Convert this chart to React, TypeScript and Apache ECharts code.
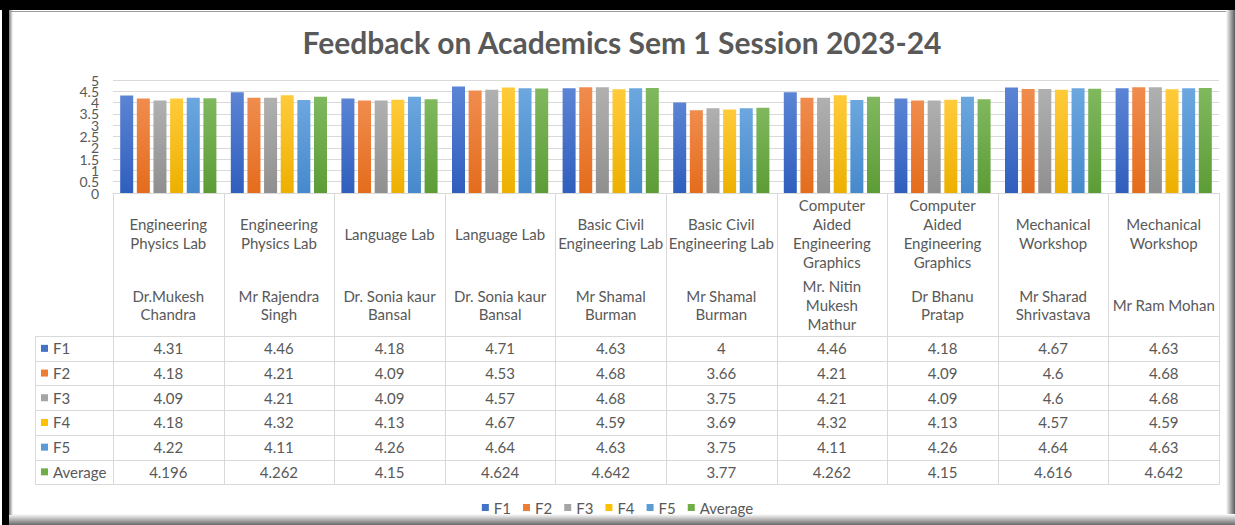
import React, { useEffect, useRef } from "react";
import * as echarts from "echarts";

const courses = [
  "Engineering\nPhysics Lab",
  "Engineering\nPhysics Lab",
  "Language Lab",
  "Language Lab",
  "Basic Civil\nEngineering Lab",
  "Basic Civil\nEngineering Lab",
  "Computer\nAided\nEngineering\nGraphics",
  "Computer\nAided\nEngineering\nGraphics",
  "Mechanical\nWorkshop",
  "Mechanical\nWorkshop",
];
const instructors = [
  "Dr.Mukesh\nChandra",
  "Mr Rajendra\nSingh",
  "Dr. Sonia kaur\nBansal",
  "Dr. Sonia kaur\nBansal",
  "Mr Shamal\nBurman",
  "Mr Shamal\nBurman",
  "Mr. Nitin\nMukesh\nMathur",
  "Dr Bhanu\nPratap",
  "Mr Sharad\nShrivastava",
  "Mr Ram Mohan",
];
const seriesNames = ["F1", "F2", "F3", "F4", "F5", "Average"];
const f1 = [4.31, 4.46, 4.18, 4.71, 4.63, 4, 4.46, 4.18, 4.67, 4.63];
const f2 = [4.18, 4.21, 4.09, 4.53, 4.68, 3.66, 4.21, 4.09, 4.6, 4.68];
const f3 = [4.09, 4.21, 4.09, 4.57, 4.68, 3.75, 4.21, 4.09, 4.6, 4.68];
const f4 = [4.18, 4.32, 4.13, 4.67, 4.59, 3.69, 4.32, 4.13, 4.57, 4.59];
const f5 = [4.22, 4.11, 4.26, 4.64, 4.63, 3.75, 4.11, 4.26, 4.64, 4.63];
const average = [4.196, 4.262, 4.15, 4.624, 4.642, 3.77, 4.262, 4.15, 4.616, 4.642];
const seriesValues = [f1, f2, f3, f4, f5, average];
const yTicks = [0, 0.5, 1, 1.5, 2, 2.5, 3, 3.5, 4, 4.5, 5];

const colors = ["#4472C4", "#ED7D31", "#A5A5A5", "#FFC000", "#5B9BD5", "#70AD47"];
const topColors = ["#5B84D4", "#F08C4E", "#B0B0B0", "#FFCB3A", "#6CA7DF", "#80B85E"];
const bottomColors = ["#2F5EBD", "#E46C1C", "#8F8F8F", "#EDB000", "#4689CC", "#5C9C36"];

const FONT = "Lato, 'Open Sans', sans-serif";
const TXT = "#595959";
const LINE = "#d9d9d9";

export default function App() {
  const ref = useRef<HTMLDivElement>(null);
  useEffect(() => {
    document.body.style.margin = "0";
    const chart = echarts.init(ref.current!, null, { renderer: "svg" });
    const W = 1235;
    const gridL = 113;
    const gridR = 1219;
    const gridTop = 80;
    const gridBottom = 193;
    const n = courses.length;
    const colW = (gridR - gridL) / n;
    const tableTop = 336;
    const rowH = 24.7;
    const lineH = 18.7;

    const g: any[] = [];
    // frame
    g.push({ type: "rect", shape: { x: 0, y: 0, width: W, height: 525 }, style: { fill: "#ffffff" }, z: -10, silent: true });
    g.push({ type: "rect", shape: { x: 0, y: 0, width: W, height: 10 }, style: { fill: "#000000" }, z: -5 });
    g.push({ type: "rect", shape: { x: 2, y: 0, width: 7, height: 525 }, style: { fill: "#000000" }, z: -5 });
    g.push({
      type: "rect",
      shape: { x: 1226, y: 10, width: 9, height: 515 },
      style: { fill: new echarts.graphic.LinearGradient(0, 0, 1, 0, [{ offset: 0, color: "#ffffff" }, { offset: 1, color: "#5a5a5a" }]) },
      z: -5,
    });
    g.push({
      type: "rect",
      shape: { x: 9, y: 514, width: 1226, height: 11 },
      style: { fill: new echarts.graphic.LinearGradient(0, 0, 0, 1, [{ offset: 0, color: "#ffffff" }, { offset: 1, color: "#6a6a6a" }]) },
      z: -4,
    });
    g.push({
      type: "rect",
      shape: { x: 9, y: 10, width: 4, height: 505 },
      style: { fill: new echarts.graphic.LinearGradient(0, 0, 1, 0, [{ offset: 0, color: "#7a7a7a" }, { offset: 1, color: "#ffffff" }]) },
      z: -4,
    });
    g.push({ type: "line", shape: { x1: 9, y1: 11.5, x2: 1226, y2: 11.5 }, style: { stroke: "#9a9a9a", lineWidth: 1 }, z: -3 });

    // title
    g.push({
      type: "text",
      x: 622,
      y: 42,
      style: { text: "Feedback on Academics Sem 1 Session 2023-24", fill: TXT, font: `bold 30px ${FONT}`, align: "center", verticalAlign: "middle" },
    });

    // table grid lines
    for (let i = 0; i <= n; i++) {
      const x = Math.round(gridL + i * colW) + 0.5;
      g.push({ type: "line", shape: { x1: x, y1: gridBottom, x2: x, y2: tableTop + rowH * 6 }, style: { stroke: LINE, lineWidth: 1 } });
    }
    for (let r = 0; r <= 6; r++) {
      const y = Math.round(tableTop + r * rowH) + 0.5;
      g.push({ type: "line", shape: { x1: 35, y1: y, x2: gridR + 0.5, y2: y }, style: { stroke: LINE, lineWidth: 1 } });
    }
    g.push({ type: "line", shape: { x1: 35.5, y1: tableTop, x2: 35.5, y2: tableTop + rowH * 6 }, style: { stroke: LINE, lineWidth: 1 } });

    // headers
    for (let i = 0; i < n; i++) {
      const cx = gridL + (i + 0.5) * colW;
      const cl = courses[i].split("\n");
      cl.forEach((t, k) => {
        g.push({
          type: "text",
          x: cx,
          y: 233.5 + (k - (cl.length - 1) / 2) * lineH,
          style: { text: t, fill: TXT, font: `15px ${FONT}`, align: "center", verticalAlign: "middle" },
        });
      });
      const il = instructors[i].split("\n");
      il.forEach((t, k) => {
        g.push({
          type: "text",
          x: cx,
          y: 305 + (k - (il.length - 1) / 2) * lineH,
          style: { text: t, fill: TXT, font: `15px ${FONT}`, align: "center", verticalAlign: "middle" },
        });
      });
    }

    // rows
    seriesNames.forEach((name, r) => {
      const cy = tableTop + (r + 0.5) * rowH;
      g.push({ type: "rect", shape: { x: 41, y: cy - 3.5, width: 7, height: 7 }, style: { fill: colors[r] } });
      g.push({ type: "text", x: 53, y: cy, style: { text: name, fill: TXT, font: `15px ${FONT}`, align: "left", verticalAlign: "middle" } });
      seriesValues[r].forEach((v, i) => {
        g.push({
          type: "text",
          x: gridL + (i + 0.5) * colW,
          y: cy,
          style: { text: String(v), fill: TXT, font: `15px ${FONT}`, align: "center", verticalAlign: "middle" },
        });
      });
    });

    const option: any = {
      animation: false,
      backgroundColor: "transparent",
      textStyle: { fontFamily: FONT },
      grid: { left: gridL, right: W - gridR, top: gridTop, bottom: 525 - gridBottom, containLabel: false },
      legend: {
        data: seriesNames.map((nm, i) => ({ name: nm, itemStyle: { color: colors[i] } })),
        left: "center",
        top: 500,
        padding: 0,
        icon: "rect",
        itemWidth: 7,
        itemHeight: 7,
        itemGap: 12,
        textStyle: { color: TXT, fontSize: 15, fontFamily: FONT },
      },
      xAxis: {
        type: "category",
        data: courses.map((c, i) => c.replace(/\n/g, " ") + " / " + instructors[i].replace(/\n/g, " ")),
        axisLine: { show: true, lineStyle: { color: LINE } },
        axisTick: { show: false },
        axisLabel: { show: false },
      },
      yAxis: {
        type: "value",
        min: 0,
        max: 5,
        interval: 0.5,
        axisLine: { show: false },
        axisTick: { show: false },
        splitLine: { lineStyle: { color: LINE } },
        axisLabel: { show: false },
      },
      series: seriesNames.map((name, s) => ({
        name,
        type: "bar",
        data: seriesValues[s],
        barWidth: 13,
        barGap: "28%",
        itemStyle: {
          borderWidth: 0,
          color: new echarts.graphic.LinearGradient(0, 0, 0, 1, [
            { offset: 0, color: topColors[s] },
            { offset: 1, color: bottomColors[s] },
          ]),
        },
      })),
      graphic: g,
    };
    chart.setOption(option);

    // y-axis tick labels, placed through the axis scale (Excel lets them overlap)
    yTicks.forEach((v) => {
      const y = chart.convertToPixel({ yAxisIndex: 0 }, v) as number;
      g.push({
        type: "text",
        x: gridL - 14,
        y,
        style: { text: String(v), fill: TXT, font: `14px ${FONT}`, align: "right", verticalAlign: "middle" },
      });
    });
    chart.setOption({ graphic: g });
    return () => chart.dispose();
  }, []);
  return <div ref={ref} style={{ width: 1235, height: 525 }} />;
}
